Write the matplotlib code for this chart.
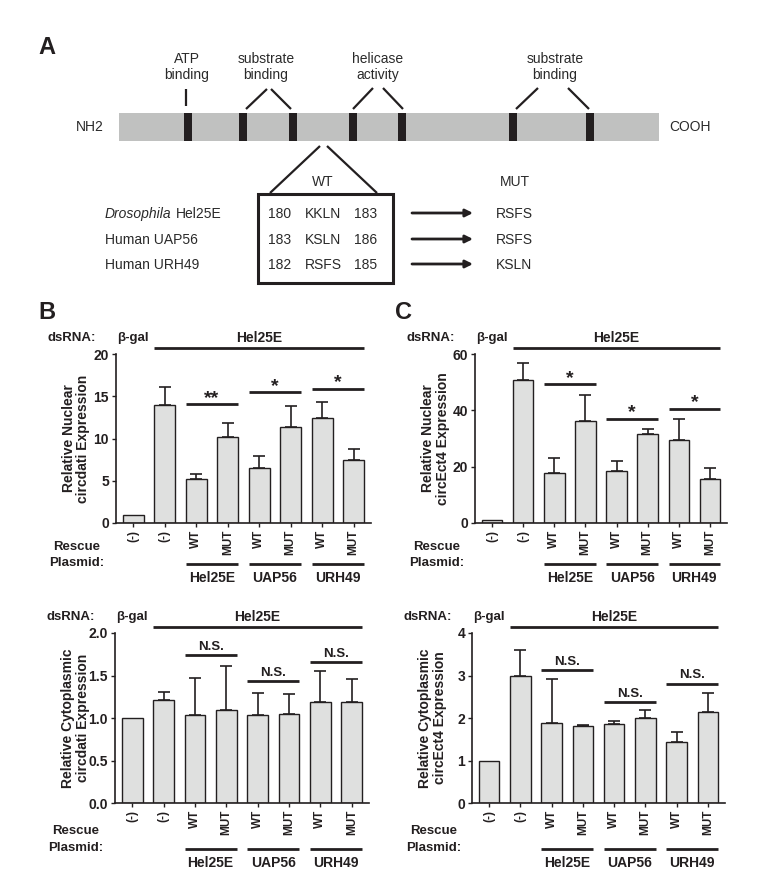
import numpy as np
import matplotlib
matplotlib.use("Agg")
import matplotlib.pyplot as plt
from matplotlib.patches import Rectangle
from matplotlib.transforms import blended_transform_factory

plt.rcParams['font.family'] = ['Liberation Sans', 'DejaVu Sans']

# ---------------- data ----------------
xlabels = ['(-)', '(-)', 'WT', 'MUT', 'WT', 'MUT', 'WT', 'MUT']
groups = ['Hel25E', 'UAP56', 'URH49']

nuc_circdati = [1.0, 14.0, 5.2, 10.2, 6.5, 11.4, 12.4, 7.4]
nuc_circdati_err = [0.0, 2.1, 0.6, 1.65, 1.45, 2.5, 1.9, 1.3]
nuc_ect4 = [1.0, 50.8, 17.9, 36.2, 18.3, 31.7, 29.4, 15.7]
nuc_ect4_err = [0.0, 5.9, 5.3, 9.4, 3.6, 1.8, 7.6, 3.9]
cyto_circdati = [1.0, 1.21, 1.03, 1.09, 1.03, 1.05, 1.19, 1.19]
cyto_circdati_err = [0.0, 0.10, 0.44, 0.52, 0.27, 0.23, 0.36, 0.27]
cyto_ect4 = [1.0, 3.0, 1.88, 1.82, 1.85, 1.99, 1.44, 2.14]
cyto_ect4_err = [0.0, 0.59, 1.03, 0.02, 0.09, 0.19, 0.22, 0.44]

sig_nuc_circdati = ['**', '*', '*']
sig_nuc_circdati_h = [14.1, 15.5, 15.9]
sig_nuc_ect4 = ['*', '*', '*']
sig_nuc_ect4_h = [49.3, 37.0, 40.6]
sig_cyto_circdati = ['N.S.', 'N.S.', 'N.S.']
sig_cyto_circdati_h = [1.74, 1.43, 1.66]
sig_cyto_ect4 = ['N.S.', 'N.S.', 'N.S.']
sig_cyto_ect4_h = [3.12, 2.37, 2.81]

# panel A schematic
motif_labels = ['ATP\nbinding', 'substrate\nbinding', 'helicase\nactivity', 'substrate\nbinding']
species = ['Hel25E', 'Human UAP56', 'Human URH49']
wt_start = ['180', '183', '182']
wt_seq = ['KKLN', 'KSLN', 'RSFS']
wt_end = ['183', '186', '185']
mut_seq = ['RSFS', 'RSFS', 'KSLN']

INK = '#231f20'
TXT = '#2a2a2a'
BARFILL = '#dfe0df'

W, H = 762, 871
fig = plt.figure(figsize=(W / 100, H / 100), dpi=100)

# ---------------- panel A (pixel canvas) ----------------
axA = fig.add_axes([0, 0, 1, 1])
axA.set_xlim(0, W)
axA.set_ylim(H, 0)
axA.axis('off')

axA.text(47, 48, 'A', fontsize=17, fontweight='bold', ha='center', va='center', color=INK)
axA.text(47, 312, 'B', fontsize=17, fontweight='bold', ha='center', va='center', color=INK)
axA.text(403, 312, 'C', fontsize=17, fontweight='bold', ha='center', va='center', color=INK)

fsA = 10
axA.add_patch(Rectangle((119, 113), 540, 28, facecolor='#c0c1c0', edgecolor='none'))
for m in [188, 243, 293, 353, 402, 513, 590]:
    axA.add_patch(Rectangle((m - 3.8, 113), 7.6, 28, facecolor=INK, edgecolor='none'))
for lab, cx in zip(motif_labels, [187, 266, 378, 555]):
    axA.text(cx, 67, lab, fontsize=fsA, ha='center', va='center', color=TXT, linespacing=1.25)
segs = [[(186, 89), (186, 106)],
        [(267, 89), (246, 109)], [(271, 89), (291, 109)],
        [(373, 88), (353, 109)], [(383, 88), (403, 109)],
        [(538, 88), (516, 109)], [(568, 88), (589, 109)],
        [(320, 146), (270, 193)], [(327, 146), (377, 193)]]
for (x0, y0), (x1, y1) in segs:
    axA.plot([x0, x1], [y0, y1], color=INK, lw=1.6, solid_capstyle='butt')
axA.text(90, 127, 'NH2', fontsize=fsA, ha='center', va='center', color=TXT)
axA.text(690, 127, 'COOH', fontsize=fsA, ha='center', va='center', color=TXT)

axA.text(323, 182, 'WT', fontsize=fsA, ha='center', va='center', color=TXT)
axA.text(515, 182, 'MUT', fontsize=fsA, ha='center', va='center', color=TXT)
axA.add_patch(Rectangle((258, 194), 135, 89, facecolor='none', edgecolor=INK, lw=2.2))
row_y = [214, 240, 265]
for i, y in enumerate(row_y):
    if i == 0:
        t0 = axA.text(105, y, 'Drosophila', fontsize=fsA, style='italic', ha='left',
                      va='center', color=TXT)
        axA.annotate(species[i], xy=(1, 0.5), xycoords=t0, xytext=(3, 0),
                     textcoords='offset points', fontsize=fsA, ha='left', va='center', color=TXT)
    else:
        axA.text(105, y, species[i], fontsize=fsA, ha='left', va='center', color=TXT)
    axA.text(280, y, wt_start[i], fontsize=fsA, ha='center', va='center', color=TXT)
    axA.text(323, y, wt_seq[i], fontsize=fsA, ha='center', va='center', color=TXT)
    axA.text(366, y, wt_end[i], fontsize=fsA, ha='center', va='center', color=TXT)
    axA.annotate('', xy=(473, y - 1), xytext=(412, y - 1),
                 arrowprops=dict(arrowstyle='-|>', color=INK, lw=2.0, mutation_scale=11,
                                 shrinkA=0, shrinkB=0))
    axA.text(514, y, mut_seq[i], fontsize=fsA, ha='center', va='center', color=TXT)


# ---------------- bar charts ----------------
def px_box(l, r, t, b):
    return [l / W, 1 - b / H, (r - l) / W, (b - t) / H]


def chart(box, vals, errs, ymax, yticks, ytl, ylabel, sig, sig_h, sig_fs, low_shift=0.0):
    ax = fig.add_axes(px_box(*box))
    x = np.arange(len(vals))
    bw = 0.66
    ax.bar(x, vals, width=bw, color=BARFILL, edgecolor=INK, linewidth=1.0, zorder=2)
    e = np.array(errs)
    m = e > 0
    ax.errorbar(x[m], np.array(vals)[m], yerr=[np.zeros(m.sum()), e[m]], fmt='none',
                ecolor=INK, elinewidth=1.2, capsize=4.5, capthick=1.2, zorder=1)
    ax.set_xlim(-0.55, 7.55)
    ax.set_ylim(0, ymax)
    ax.spines['top'].set_visible(False)
    ax.spines['right'].set_visible(False)
    for s in ['left', 'bottom']:
        ax.spines[s].set_linewidth(1.2)
        ax.spines[s].set_color(INK)
    ax.set_yticks(yticks)
    ax.set_yticklabels(ytl, fontsize=10, fontweight='bold', color=INK)
    ax.set_xticks(x)
    ax.set_xticklabels(xlabels, rotation=90, fontsize=8.5, fontweight='bold', color=INK)
    ax.tick_params(axis='both', direction='out', length=3, width=1.0, color=INK, pad=2)
    ax.set_ylabel(ylabel, fontsize=10, fontweight='bold', color=INK, linespacing=1.05)
    ax.yaxis.set_label_coords(-0.10, 0.5)

    tr = blended_transform_factory(ax.transData, ax.transAxes)
    ax.text(-1.2, 1.095, 'dsRNA:', transform=tr, fontsize=9.5, fontweight='bold', ha='right',
            va='center', color=INK)
    ax.text(0, 1.095, 'β-gal', transform=tr, fontsize=9.5, fontweight='bold', ha='center',
            va='center', color=INK)
    ax.text(4, 1.095, 'Hel25E', transform=tr, fontsize=10, fontweight='bold', ha='center',
            va='center', color=INK)
    ax.plot([1 - bw / 2, 7 + bw / 2], [1.035, 1.035], transform=tr, color=INK, lw=2.0,
            clip_on=False, solid_capstyle='butt')

    # significance
    for k, (lab, h) in enumerate(zip(sig, sig_h)):
        i, j = 2 + 2 * k, 3 + 2 * k
        ax.plot([i - bw / 2, j + bw / 2], [h, h], color=INK, lw=2.0, clip_on=False,
                solid_capstyle='butt')
        off = -2 if '*' in lab else 1.5
        ax.annotate(lab, xy=((i + j) / 2, h), xytext=(0, off), textcoords='offset points',
                    ha='center', va='bottom', fontsize=sig_fs, fontweight='bold', color=INK)

    # rescue plasmid
    s = low_shift
    ax.text(-1.79, -0.142 - s, 'Rescue', transform=tr, fontsize=9.5, fontweight='bold',
            ha='center', va='center', color=INK)
    ax.text(-1.79, -0.237 - s, 'Plasmid:', transform=tr, fontsize=9.5, fontweight='bold',
            ha='center', va='center', color=INK)
    for k, g in enumerate(groups):
        i, j = 2 + 2 * k, 3 + 2 * k
        ax.plot([i - bw / 2, j + bw / 2], [-0.243 - s, -0.243 - s], transform=tr, color=INK,
                lw=2.0, clip_on=False, solid_capstyle='butt')
        ax.text((i + j) / 2, -0.325 - s, g, transform=tr, fontsize=10, fontweight='bold',
                ha='center', va='center', color=INK)
    return ax


chart((116, 371, 354, 523), nuc_circdati, nuc_circdati_err, 20, [0, 5, 10, 15, 20],
      ['0', '5', '10', '15', '20'], 'Relative Nuclear\ncircdati Expression',
      sig_nuc_circdati, sig_nuc_circdati_h, 14)
chart((475, 727, 354, 523), nuc_ect4, nuc_ect4_err, 60, [0, 20, 40, 60],
      ['0', '20', '40', '60'], 'Relative Nuclear\ncircEct4 Expression',
      sig_nuc_ect4, sig_nuc_ect4_h, 14)
chart((115, 369, 633, 803), cyto_circdati, cyto_circdati_err, 2.0, [0, 0.5, 1.0, 1.5, 2.0],
      ['0.0', '0.5', '1.0', '1.5', '2.0'], 'Relative Cytoplasmic\ncircdati Expression',
      sig_cyto_circdati, sig_cyto_circdati_h, 9.5, low_shift=0.025)
chart((472, 725, 633, 803), cyto_ect4, cyto_ect4_err, 4, [0, 1, 2, 3, 4],
      ['0', '1', '2', '3', '4'], 'Relative Cytoplasmic\ncircEct4 Expression',
      sig_cyto_ect4, sig_cyto_ect4_h, 9.5, low_shift=0.025)

fig.savefig('out.png', dpi=100)
